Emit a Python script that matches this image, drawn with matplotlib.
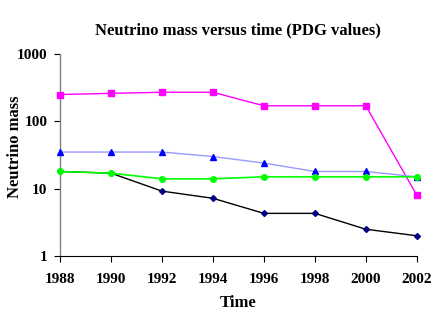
import matplotlib.pyplot as plt

# PDG neutrino mass limits
YEARS = [1988, 1990, 1992, 1994, 1996, 1998, 2000, 2002]
MASS_PINK = [250, 260, 270, 270, 170, 170, 170, 8]
MASS_BLUE = [35, 35, 35, 30, 24, 18, 18, 15]
MASS_GREEN = [18, 17, 14, 14, 15, 15, 15, 15]
MASS_BLACK = [18, 17, 9.2, 7.2, 4.3, 4.3, 2.5, 2.0]

Y_TICKS = [1, 10, 100, 1000]
Y_TICK_LABELS = ["1", "10", "100", "1000"]

plt.rcParams["font.family"] = ["Liberation Serif", "DejaVu Serif"]
plt.rcParams["font.weight"] = "bold"

fig = plt.figure(figsize=(4.36, 3.27), dpi=100)
ax = fig.add_axes([0.1376, 0.217, 0.8184, 0.618])

ax.plot(YEARS, MASS_PINK, color="#FF00FF", lw=1.0, marker="s", ms=4.5,
        mfc="#FF00FF", mec="#FF00FF", clip_on=False, zorder=3)
ax.plot(YEARS, MASS_BLUE, color="#9999FF", lw=1.0, marker="^", ms=4.5,
        mfc="#0000FF", mec="#0000FF", clip_on=False, zorder=3)
ax.plot(YEARS, MASS_GREEN, color="#00FF00", lw=1.2, marker="o", ms=4,
        mfc="#00FF00", mec="#00FF00", clip_on=False, zorder=4)
ax.plot(YEARS, MASS_BLACK, color="black", lw=1.0, marker="D", ms=3,
        mfc="#000080", mec="#000080", clip_on=False, zorder=3)

ax.set_yscale("log")
ax.set_ylim(1, 1000)
ax.set_xlim(1988, 2002)
ax.set_yticks(Y_TICKS)
ax.set_yticklabels(Y_TICK_LABELS)
ax.minorticks_off()
ax.set_xticks(YEARS)
ax.set_xticklabels([str(y) for y in YEARS])

ax.spines["top"].set_visible(False)
ax.spines["right"].set_visible(False)
ax.spines["left"].set_color("#808080")
ax.spines["left"].set_linewidth(1.0)
ax.spines["bottom"].set_color("black")
ax.tick_params(axis="both", direction="out", length=4, labelsize=11, pad=5)
ax.tick_params(axis="x", pad=8)

ax.set_title("Neutrino mass versus time (PDG values)", fontsize=12,
             fontweight="bold", pad=14)
ax.set_xlabel("Time", fontsize=12, fontweight="bold", labelpad=7)
ax.set_ylabel("Neutrino mass", fontsize=12, fontweight="bold")
ax.yaxis.set_label_coords(-0.104, 0.54)

fig.savefig("out.png", dpi=100)
